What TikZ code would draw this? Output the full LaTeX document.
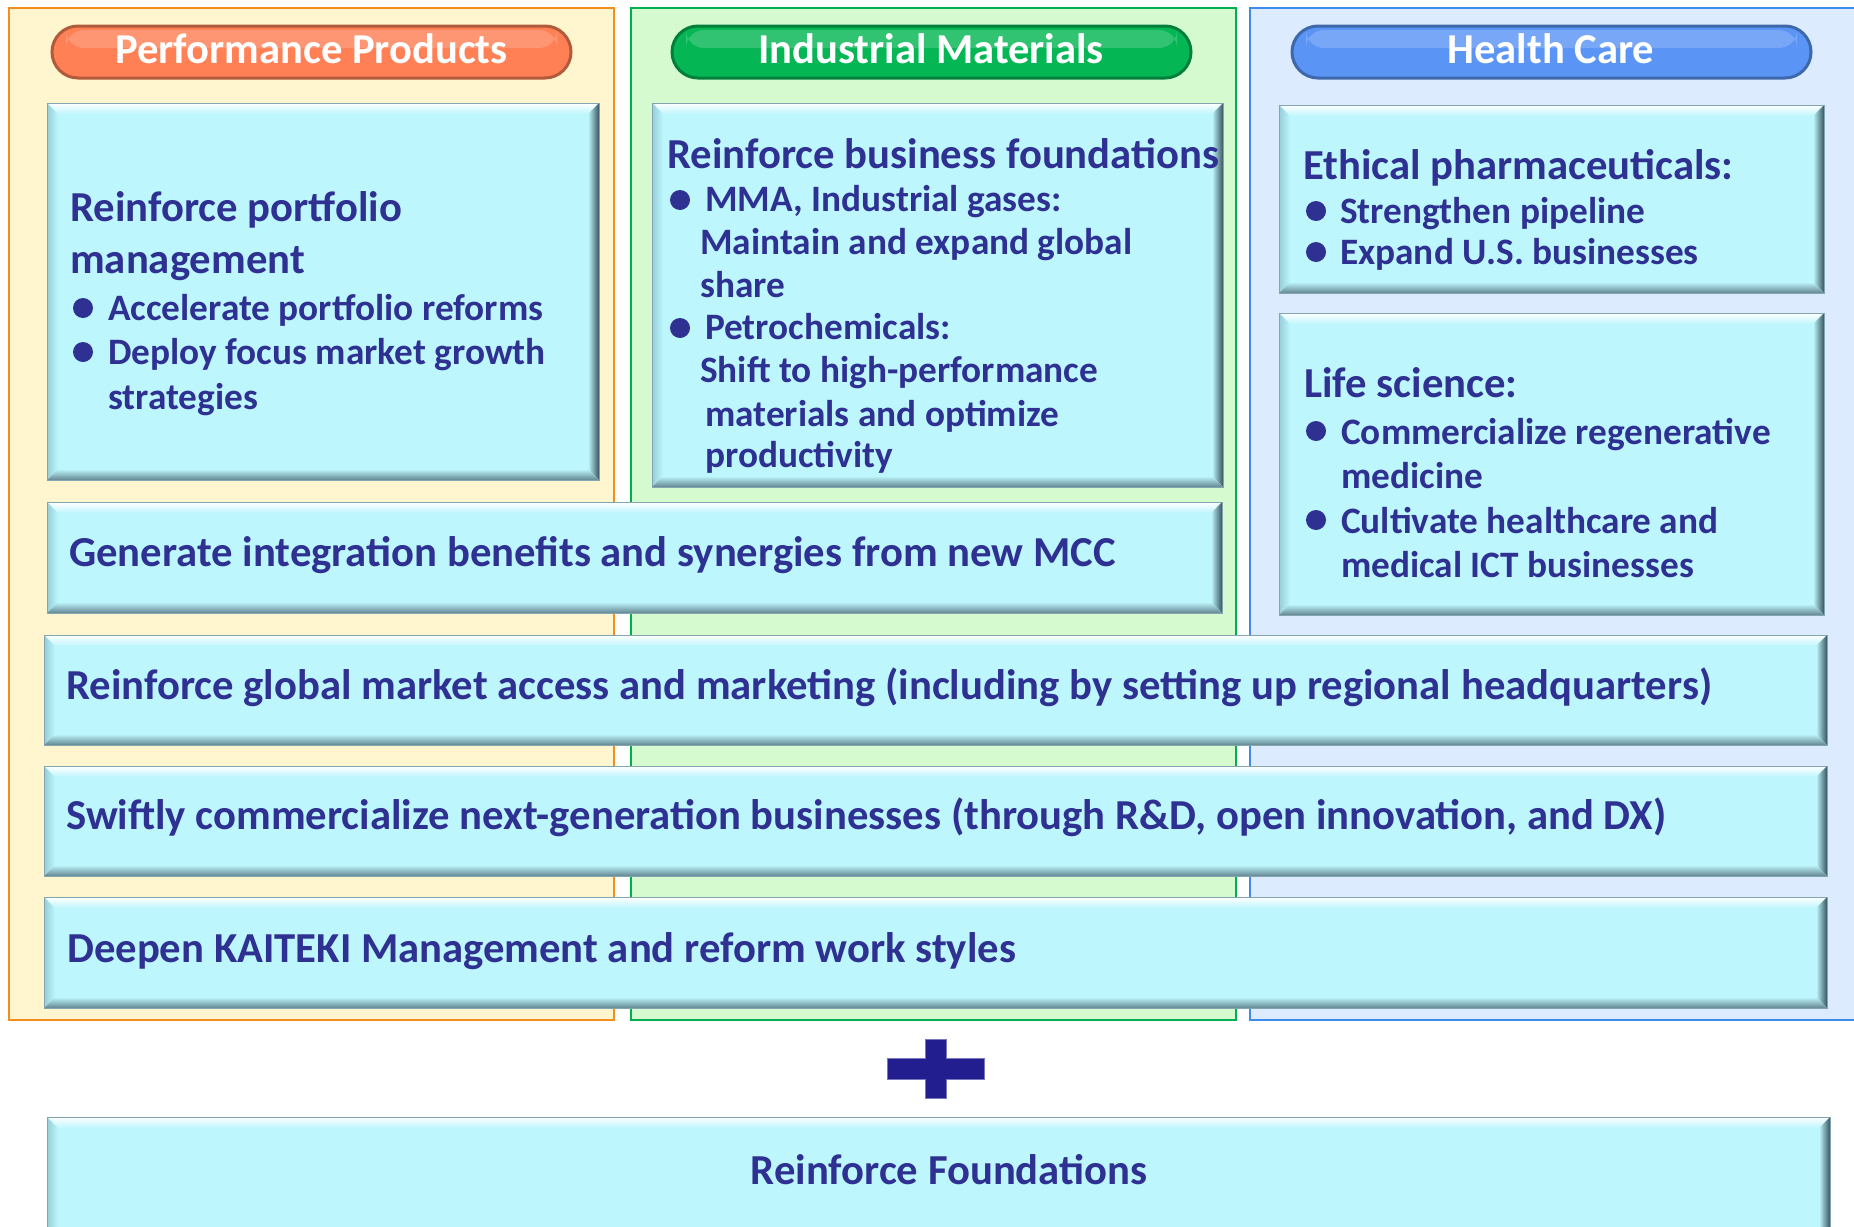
\documentclass[tikz,border=0pt]{standalone}
\usepackage{fontspec}
\setmainfont{Carlito}
\usetikzlibrary{calc}
\definecolor{txt}{RGB}{46,49,146}
\definecolor{cyanbox}{RGB}{190,246,253}
\definecolor{bevL}{RGB}{150,205,215}
\definecolor{bevR}{RGB}{55,85,95}
\definecolor{bevB}{RGB}{100,135,145}
\definecolor{bevline}{RGB}{130,165,175}
\definecolor{ppfill}{RGB}{255,245,206}
\definecolor{ppline}{RGB}{245,140,30}
\definecolor{imfill}{RGB}{214,250,208}
\definecolor{imline}{RGB}{0,176,80}
\definecolor{hcfill}{RGB}{220,235,253}
\definecolor{hcline}{RGB}{60,140,240}
\definecolor{pporange}{RGB}{255,128,85}
\definecolor{imgreen}{RGB}{4,182,84}
\definecolor{hcblue}{RGB}{90,148,245}
\definecolor{plusc}{RGB}{34,30,143}
\def\bw{11}
\newcommand{\bev}[4]{%
 \fill[cyanbox] (#1,#2) rectangle (#3,#4);
 \shade[top color=white, bottom color=cyanbox] (#1,#2) -- (#3,#2) -- ({#3-\bw},{#2+\bw}) -- ({#1+\bw},{#2+\bw}) -- cycle;
 \shade[left color=bevL, right color=cyanbox] (#1,#2) -- ({#1+\bw},{#2+\bw}) -- ({#1+\bw},{#4-\bw}) -- (#1,#4) -- cycle;
 \shade[left color=cyanbox, right color=bevR] (#3,#2) -- (#3,#4) -- ({#3-\bw},{#4-\bw}) -- ({#3-\bw},{#2+\bw}) -- cycle;
 \shade[top color=cyanbox, bottom color=bevB] (#1,#4) -- (#3,#4) -- ({#3-\bw},{#4-\bw}) -- ({#1+\bw},{#4-\bw}) -- cycle;
 \draw[bevline, line width=1pt] (#1,#2) rectangle (#3,#4);
}
\newcommand{\pill}[5]{%
 \draw[line width=3pt, draw=#5!70!black, fill=#5, rounded corners=26pt] (#1,#2) rectangle (#3,#4);
 \fill[white, opacity=0.18, rounded corners=18pt] ({#1+14},{#2+4}) rectangle ({#3-14},{#2+22});
}
\tikzset{
 hd/.style={font=\bfseries\fontsize{42.7}{42.7}\selectfont, text=txt, inner sep=0pt, anchor=base west},
 bl/.style={font=\bfseries\fontsize{37.3}{37.3}\selectfont, text=txt, inner sep=0pt, anchor=base west},
 band/.style={font=\bfseries\fontsize{42.7}{42.7}\selectfont, text=txt, inner sep=0pt, anchor=base west},
 pilltext/.style={font=\bfseries\fontsize{42.6}{42.6}\selectfont, text=white, inner sep=0pt, anchor=base},
 dot/.style={fill=txt},
 panel/.style={line width=2.5pt}
}
\begin{document}
\begin{tikzpicture}[x=1pt,y=-1pt]
\useasboundingbox (0,0) rectangle (1854,1226);
\clip (0,0) rectangle (1854,1226);
\fill[white] (0,0) rectangle (1854,1226);
% panels
\draw[panel, fill=ppfill, draw=ppline] (9,8) rectangle (614,1020);
\draw[panel, fill=imfill, draw=imline] (631,8) rectangle (1236,1020);
\draw[panel, fill=hcfill, draw=hcline] (1250,8) rectangle (1870,1020);
% pills
\pill{52}{26}{571}{78}{pporange}
\node[pilltext] (ppt) at (311.5,63) {Performance Products};
\pill{672}{26}{1191}{78}{imgreen}
\node[pilltext] (imt) at (931,63) {Industrial Materials};
\pill{1292}{26}{1811}{78}{hcblue}
\node[pilltext] (hct) at (1551,63) {Health Care};
% boxes
\bev{47}{103}{599}{480}
\bev{652}{103}{1223}{487}
\bev{1279}{105}{1824}{293}
\bev{1279}{313}{1824}{615}
\bev{47}{502}{1222}{613}
\bev{44}{635}{1827}{745}
\bev{44}{766}{1827}{876}
\bev{44}{897}{1827}{1008}
\bev{47}{1117}{1830}{1240}
% PP1
\node[hd] (pp1a) at (70,221) {Reinforce portfolio};
\node[hd] (pp1b) at (70,273) {management};
\fill[dot] (83,308) circle (10);
\node[bl] (pp1c) at (108,320) {Accelerate portfolio reforms};
\fill[dot] (83,352) circle (10);
\node[bl] (pp1d) at (108,364) {Deploy focus market growth};
\node[bl] (pp1e) at (108,409) {strategies};
% IM1
\node[hd] (im1a) at (667,168) {Reinforce business foundations};
\fill[dot] (680,200) circle (10);
\node[bl] (im1b) at (705,211) {MMA, Industrial gases:};
\node[bl] (im1c) at (700,254) {Maintain and expand global};
\node[bl] (im1d) at (700,297) {share};
\fill[dot] (680,328) circle (10);
\node[bl] (im1e) at (705,339) {Petrochemicals:};
\node[bl] (im1f) at (700,382) {Shift to high-performance};
\node[bl] (im1g) at (705,426) {materials and optimize};
\node[bl] (im1h) at (705,467) {productivity};
% HC1
\node[hd] (hc1a) at (1303,179) {Ethical pharmaceuticals:};
\fill[dot] (1316,211) circle (10);
\node[bl] (hc1b) at (1340,223) {Strengthen pipeline};
\fill[dot] (1316,252) circle (10);
\node[bl] (hc1c) at (1340,264) {Expand U.S. businesses};
% HC2
\node[hd] (hc2a) at (1304,397) {Life science:};
\fill[dot] (1316,431) circle (10);
\node[bl] (hc2b) at (1341,444) {Commercialize regenerative};
\node[bl] (hc2c) at (1341,488) {medicine};
\fill[dot] (1316,520) circle (10);
\node[bl] (hc2d) at (1341,533) {Cultivate healthcare and};
\node[bl] (hc2e) at (1341,577) {medical ICT businesses};
% bands
\node[band] (gen) at (69,566) {Generate integration benefits and synergies from new MCC};
\node[band] (glob) at (66,699) {Reinforce global market access and marketing (including by setting up regional headquarters)};
\node[band] (swift) at (66,829) {Swiftly commercialize next-generation businesses (through R\&D, open innovation, and DX)};
\node[band] (deep) at (67,962) {Deepen KAITEKI Management and reform work styles};
% plus
\fill[plusc, draw=plusc!60!white, line width=1pt] (887,1058) -- (925,1058) -- (925,1039) -- (946,1039) -- (946,1058) -- (984,1058) -- (984,1079) -- (946,1079) -- (946,1098) -- (925,1098) -- (925,1079) -- (887,1079) -- cycle;
\node[band, anchor=base] (rf) at (949,1184) {Reinforce Foundations};
\end{tikzpicture}
\end{document}
